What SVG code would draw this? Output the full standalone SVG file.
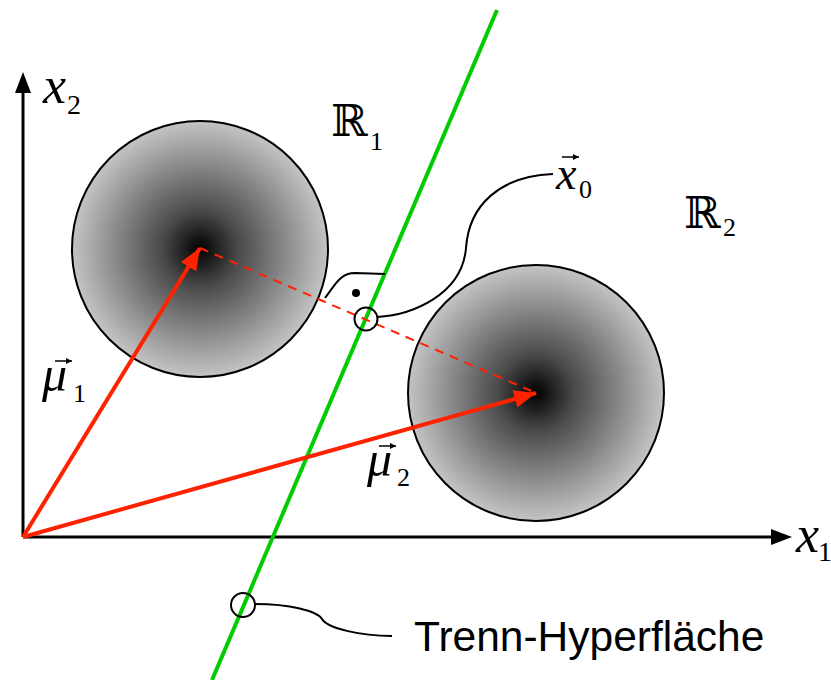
<svg xmlns="http://www.w3.org/2000/svg" width="831" height="680" viewBox="0 0 831 680">
<style>
.ax{stroke:#000;stroke-width:3;fill:none}
.red{stroke:#ff2200;stroke-width:4;fill:none}
.dash{stroke:#ff2200;stroke-width:2;fill:none;stroke-dasharray:9,7}
.grn{stroke:#00cc00;stroke-width:4;fill:none}
.thin{stroke:#000;stroke-width:2;fill:none}
.blob{fill:url(#rg);stroke:#000;stroke-width:2}
.m{font-family:"Liberation Serif","Times New Roman",serif;font-style:italic;fill:#000}
.s{font-family:"Liberation Serif","Times New Roman",serif;fill:#000}
.r{font-family:"DejaVu Serif","DejaVu Sans",serif;fill:#000}
.sans{font-family:"Liberation Sans",Arial,sans-serif;fill:#000}
</style>
<defs>
<radialGradient id="rg" cx="0.5" cy="0.5" r="0.5">
<stop offset="0" stop-color="#000"/>
<stop offset="0.3" stop-color="#4a4a4a"/>
<stop offset="1" stop-color="#c4c4c4"/>
</radialGradient>
<marker id="ah" markerUnits="userSpaceOnUse" markerWidth="24" markerHeight="20" refX="22" refY="9" orient="auto">
<path d="M0,0 L22,9 L0,18 Z" fill="#ff2200"/>
</marker>
<marker id="sm" markerUnits="userSpaceOnUse" markerWidth="8" markerHeight="8" refX="6" refY="3" orient="auto">
<path d="M0,0 L6,3 L0,6 Z" fill="#000"/>
</marker>
</defs>
<rect width="831" height="680" fill="#fff"/>

<g id="cluster1"><circle class="blob" cx="200" cy="249" r="128"/></g>
<g id="cluster2"><circle class="blob" cx="536" cy="393" r="128"/></g>

<g id="axes">
<line class="ax" x1="23" y1="537" x2="23" y2="90"/>
<path d="M23,72 L15,93 L31,93 Z" fill="#000"/>
<line class="ax" x1="23" y1="537" x2="774" y2="537"/>
<path d="M792,537 L771,529 L771,545 Z" fill="#000"/>
</g>

<g id="connectors">
<line class="grn" x1="497" y1="10" x2="212" y2="680"/>
<line class="dash" x1="200" y1="248" x2="536" y2="393"/>
<line class="red" x1="23" y1="537" x2="200" y2="248" marker-end="url(#ah)"/>
<line class="red" x1="23" y1="537" x2="536" y2="393" marker-end="url(#ah)"/>
<path class="thin" d="M377,317 C412,315 462,295 466,248 C469,205 500,176 553,174"/>
<path class="thin" d="M325,298 C335,285 340,273 355,273 L385,274"/>
<path class="thin" d="M255,604 C290,604 317,611 322,619 C327,628 360,636 392,636"/>
</g>

<g id="x0point">
<circle cx="356" cy="293" r="4" fill="#000"/>
<circle class="thin" cx="366" cy="319" r="11.5"/>
</g>
<g id="hyperplanepoint"><circle class="thin" cx="243" cy="605" r="12"/></g>

<g id="labels">
<text class="m" x="43" y="103" font-size="52">x</text>
<text class="s" x="67" y="114" font-size="28">2</text>
<text class="m" x="796" y="552" font-size="52">x</text>
<text class="s" x="818" y="561" font-size="28">1</text>
<text class="r" x="331" y="136" font-size="44">ℝ</text>
<text class="s" x="370" y="150" font-size="26">1</text>
<text class="r" x="684" y="228" font-size="44">ℝ</text>
<text class="s" x="723" y="236" font-size="26">2</text>
<text class="m" x="556" y="189" font-size="46">x</text>
<line class="thin" x1="562" y1="157" x2="579" y2="157" marker-end="url(#sm)" style="stroke-width:1.5"/>
<text class="s" x="579" y="198" font-size="26">0</text>
<text class="m" x="42" y="391" font-size="50">μ</text>
<line class="thin" x1="55" y1="361" x2="72" y2="361" marker-end="url(#sm)" style="stroke-width:1.5"/>
<text class="s" x="73" y="402" font-size="26">1</text>
<text class="m" x="367" y="476" font-size="50">μ</text>
<line class="thin" x1="379" y1="446" x2="396" y2="446" marker-end="url(#sm)" style="stroke-width:1.5"/>
<text class="s" x="397" y="486" font-size="26">2</text>
<text class="sans" x="414" y="651" font-size="42.5">Trenn-Hyperfläche</text>
</g>
</svg>
